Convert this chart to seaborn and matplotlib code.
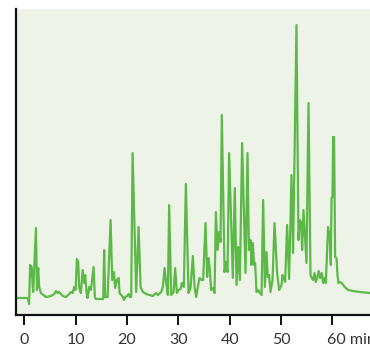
import matplotlib
matplotlib.use("Agg")
import matplotlib.pyplot as plt
import seaborn as sns
import pandas as pd

# Retention time (min) and detector signal (arbitrary units)
time_min = [-1.6, 0.7, 0.95, 1.15, 1.45, 1.65, 1.75, 2.28, 2.47, 2.72, 2.92, 3.25, 4.22, 5.19,
            5.84, 6.17, 6.50, 6.81, 7.14, 7.47, 8.11, 8.75, 9.09, 9.42, 9.73, 10.0, 10.25, 10.51,
            10.70, 11.03, 11.36, 11.67, 11.87, 12.14, 12.33, 12.65, 12.98, 13.50, 13.75, 13.95,
            15.37, 15.56, 15.76, 16.23, 16.81, 17.12, 17.45, 17.70, 18.04, 18.37, 18.56, 18.87,
            19.20, 19.40, 19.65, 20.04, 20.31, 20.56, 20.82, 21.09, 21.79, 22.26, 22.65, 23.09,
            23.74, 24.40, 25.04, 25.68, 26.01, 26.65, 26.98, 27.32, 27.63, 27.96, 28.21, 28.60,
            29.07, 29.38, 29.71, 30.04, 30.43, 30.68, 31.07, 31.46, 31.98, 32.37, 32.82, 33.15,
            33.46, 33.79, 34.12, 34.51, 34.82, 35.29, 35.60, 35.88, 36.13, 36.38, 36.77, 37.04,
            37.30, 37.63, 37.94, 38.21, 38.46, 38.99, 39.24, 39.57, 39.88, 40.60, 40.99, 41.32,
            41.63, 41.97, 42.41, 43.07, 43.46, 43.72, 44.05, 44.24, 44.49, 44.75, 44.94, 45.21,
            45.53, 45.86, 46.19, 46.50, 46.83, 47.16, 47.41, 47.67, 47.94, 48.33, 48.72, 49.22,
            49.61, 50.08, 50.28, 50.39, 50.78, 51.17, 51.56, 52.02, 52.33, 52.99, 53.38, 53.64,
            53.89, 54.09, 54.36, 54.61, 54.94, 55.33, 55.72, 55.97, 56.23, 56.50, 56.75, 57.00,
            57.33, 57.59, 57.92, 58.17, 58.44, 58.70, 59.14, 59.47, 59.67, 59.81, 60.00, 60.12,
            60.31, 60.51, 60.78, 60.97, 61.17, 61.42, 61.81, 62.39, 63.04, 64.01, 65.31, 67.26]
signal = [0, 0, -6, 33, 31, 11, 6, 70, 8, 30, 11, 5, 1, 2,
          4, 7, 5, 6, 4, 2, 1, 4, 6, 5, 11, 8, 39, 36,
          10, 5, 28, 15, 23, 5, 0, 11, 8, 31, 1, -1,
          -1, 48, 1, 1, 78, 18, 26, 10, 18, 20, 5, 3,
          1, -2, 1, 2, 4, 1, 1, 145, 6, 71, 11, 6,
          4, 3, 2, 5, 3, 6, 11, 30, 15, 3, 93, 3,
          6, 30, 5, 8, 9, 15, 11, 114, 5, 10, 42, 11,
          1, 11, 20, 18, 18, 75, 21, 40, 28, 8, 10, 5,
          86, 48, 66, 56, 183, 26, 36, 26, 145, 20, 110, 13,
          51, 18, 155, 25, 145, 48, 58, 33, 55, 33, 35, 6,
          8, 5, 3, 98, 11, 46, 21, 23, 6, 18, 75, 25,
          8, 13, 23, 21, 16, 73, 19, 123, 45, 273, 58, 78,
          76, 48, 88, 65, 35, 195, 23, 20, 18, 25, 16, 20,
          27, 20, 25, 15, 20, 15, 71, 60, 33, 100, 101, 161,
          161, 41, 40, 23, 15, 16, 15, 11, 8, 7, 6, 5]

tick_values = [0, 10, 20, 30, 40, 50, 60]
tick_labels = ["0", "10", "20", "30", "40", "50", ""]
last_label = "60 min"

df = pd.DataFrame({"time": time_min, "signal": signal})

sns.set_theme(style="white")
plt.rcParams["font.family"] = ["Lato", "DejaVu Sans"]

fig = plt.figure(figsize=(3.7, 3.47), dpi=100)
fig.patch.set_facecolor("white")
ax = fig.add_axes([16 / 370, (347 - 314.5) / 347, 354 / 370, (314.5 - 9) / 347])
ax.set_facecolor("#edf4e7")

sns.lineplot(data=df, x="time", y="signal", ax=ax, color="#5cb947", linewidth=1.6,
             sort=False, estimator=None)

ax.set_xlim(-1.6, 67.3)
ax.set_ylim(-16.5, 289)
ax.set_xlabel("")
ax.set_ylabel("")
ax.set_yticks([])
ax.set_xticks(tick_values)
ax.set_xticklabels(tick_labels)
ax.tick_params(axis="x", length=7, width=1.4, color="#111111", pad=6.5,
               labelsize=11.5, labelcolor="#333333", bottom=True)
for side in ["top", "right"]:
    ax.spines[side].set_visible(False)
for side in ["left", "bottom"]:
    ax.spines[side].set_visible(True)
    ax.spines[side].set_color("#111111")
    ax.spines[side].set_linewidth(1.6)

ax.annotate(last_label, xy=(60, 0), xycoords=("data", "axes fraction"),
            xytext=(-3.6, -13.5), textcoords="offset points", ha="left", va="top",
            fontsize=11.5, color="#333333", annotation_clip=False)

fig.savefig("out.png", dpi=100)
